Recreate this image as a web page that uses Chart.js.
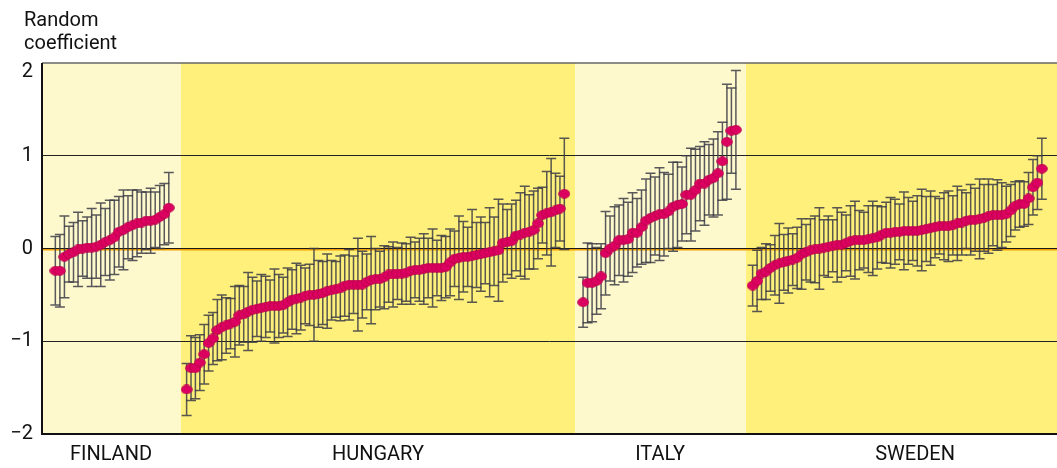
<!DOCTYPE html>
<html>
<head>
<meta charset="utf-8">
<title>Random coefficient by country</title>
<script src="https://cdn.jsdelivr.net/npm/chart.js@4.4.0/dist/chart.umd.min.js"></script>
<style>
    body { margin: 0; background: #ffffff; }
    #wrap { width: 1057px; height: 468px; position: relative; }
</style>
</head>
<body>
<div id="wrap"><canvas id="coefChart"></canvas></div>
<script>
// Country names (x axis labels)
const countries = ['FINLAND', 'HUNGARY', 'ITALY', 'SWEDEN'];

// Y tick labels
const yTicks = [-2, -1, 0, 1, 2];

// Estimates, sorted within each country
const finlandEst = [-0.24, -0.24, -0.09, -0.06, -0.04, -0.01, 0.00, 0.01, 0.01, 0.02, 0.04, 0.07, 0.09,
    0.12, 0.18, 0.20, 0.23, 0.25, 0.27, 0.28, 0.30, 0.30, 0.31, 0.34, 0.37, 0.44];
const hungaryEst = [-1.52, -1.29, -1.29, -1.23, -1.14,
    -1.02, -0.97, -0.88, -0.85, -0.83, -0.81, -0.79, -0.72, -0.71, -0.68, -0.66, -0.65, -0.64, -0.63,
    -0.62, -0.62, -0.62, -0.61, -0.58, -0.55, -0.54, -0.53, -0.51, -0.50, -0.50, -0.49, -0.48, -0.46,
    -0.45, -0.44, -0.43, -0.40, -0.39, -0.39, -0.39, -0.39, -0.36, -0.34, -0.33, -0.33, -0.31,
    -0.28, -0.28, -0.27, -0.27, -0.26, -0.24, -0.23, -0.23, -0.22, -0.21, -0.21, -0.21, -0.21, -0.20,
    -0.15, -0.11, -0.10, -0.09, -0.09, -0.08, -0.07, -0.06, -0.05, -0.04, -0.03, -0.02, 0.06, 0.07,
    0.08, 0.14, 0.15, 0.17, 0.18, 0.20, 0.27, 0.36, 0.38, 0.39, 0.41, 0.43, 0.59];
const italyEst = [-0.58, -0.37, -0.37, -0.35, -0.30, -0.05, 0.00, 0.03, 0.09, 0.09, 0.10, 0.17, 0.17,
    0.23, 0.30, 0.33, 0.35, 0.37, 0.37, 0.40, 0.45, 0.47, 0.48, 0.58, 0.58, 0.63, 0.70, 0.70, 0.74,
    0.76, 0.81, 0.94, 1.15, 1.27, 1.28];
const swedenEst = [-0.40, -0.35, -0.27, -0.25, -0.21, -0.18, -0.16, -0.15, -0.13, -0.12,
    -0.10, -0.06, -0.04, -0.02, -0.01, 0.00, 0.01, 0.02, 0.03, 0.04,
    0.04, 0.06, 0.08, 0.09, 0.09, 0.09, 0.10, 0.11, 0.12, 0.15,
    0.17, 0.17, 0.18, 0.18, 0.19, 0.19, 0.19, 0.19, 0.20, 0.21,
    0.22, 0.23, 0.24, 0.24, 0.24, 0.25, 0.27, 0.28, 0.30, 0.31,
    0.31, 0.32, 0.33, 0.35, 0.36, 0.36, 0.36, 0.37, 0.41, 0.46,
    0.48, 0.48, 0.54, 0.66, 0.71, 0.86];

// Half-widths of the error bars
const finlandErr = [0.37, 0.39, 0.44, 0.30, 0.32, 0.40, 0.30, 0.33, 0.42, 0.34, 0.45, 0.36, 0.43,
    0.40, 0.38, 0.43, 0.34, 0.38, 0.36, 0.33, 0.31, 0.35, 0.30, 0.34, 0.33, 0.38];
const hungaryErr = [0.28, 0.35, 0.33, 0.30, 0.32,
    0.30, 0.28, 0.33, 0.35, 0.30, 0.27, 0.38, 0.32, 0.30, 0.42, 0.35, 0.30, 0.36, 0.33, 0.28,
    0.40, 0.34, 0.30, 0.37, 0.32, 0.38, 0.35, 0.30, 0.33, 0.50, 0.36, 0.34, 0.40, 0.32, 0.30,
    0.35, 0.33, 0.38, 0.31, 0.50, 0.36, 0.30, 0.47, 0.33, 0.30, 0.34,
    0.30, 0.35, 0.28, 0.33, 0.31, 0.36, 0.30, 0.34, 0.38, 0.32, 0.42, 0.30, 0.35, 0.33, 0.36,
    0.30, 0.45, 0.38, 0.32, 0.50, 0.35, 0.40, 0.33, 0.48, 0.37, 0.55, 0.42, 0.35, 0.40, 0.38,
    0.45, 0.50, 0.40, 0.42, 0.38, 0.30, 0.45, 0.58, 0.40, 0.35, 0.60];
const italyErr = [0.27, 0.43, 0.42, 0.36, 0.35, 0.45, 0.35, 0.42, 0.38, 0.45, 0.40, 0.43, 0.37,
    0.40, 0.45, 0.48, 0.42, 0.50, 0.45, 0.40, 0.48, 0.46, 0.40, 0.42, 0.50, 0.44, 0.40, 0.45,
    0.38, 0.42, 0.45, 0.42, 0.62, 0.46, 0.64];
const swedenErr = [0.22, 0.33, 0.28, 0.30, 0.25, 0.32, 0.43, 0.30, 0.35, 0.28,
    0.33, 0.38, 0.30, 0.34, 0.36, 0.44, 0.30, 0.33, 0.28, 0.40,
    0.35, 0.30, 0.38, 0.42, 0.32, 0.30, 0.36, 0.40, 0.34, 0.30,
    0.33, 0.38, 0.35, 0.30, 0.42, 0.36, 0.32, 0.38, 0.44, 0.35,
    0.40, 0.33, 0.30, 0.36, 0.38, 0.32, 0.40, 0.35, 0.30, 0.38,
    0.34, 0.43, 0.36, 0.40, 0.33, 0.38, 0.35, 0.30, 0.28, 0.26,
    0.25, 0.24, 0.28, 0.30, 0.29, 0.33];

document.addEventListener('DOMContentLoaded', function() {
    // Layout of the x axis (slot units): where each country's row of points starts, and spacing
    const groupStart = [3, 32.5, 121.6, 159.7];
    const groupStep = [1.02, 0.987, 1.01, 1.0];
    const panelEdges = [0, 31.2, 119.8, 158.2, 228.1];
    const labelPos = [15.5, 75.5, 138.9, 196.2];
    const panelColors = ['#fef9cd', '#fef07a', '#fef9cd', '#fef07a'];

    const estimates = [finlandEst, hungaryEst, italyEst, swedenEst];
    const errors = [finlandErr, hungaryErr, italyErr, swedenErr];

    // Build the scatter points with their error half-widths
    const points = [];
    estimates.forEach((est, g) => {
        est.forEach((v, i) => {
            points.push({ x: groupStart[g] + i * groupStep[g], y: v, err: errors[g][i] });
        });
    });

    // Oval marker
    const dot = document.createElement('canvas');
    dot.width = 12;
    dot.height = 10;
    const dctx = dot.getContext('2d');
    dctx.beginPath();
    dctx.ellipse(6, 5, 5.4, 4.4, 0, 0, Math.PI * 2);
    dctx.fillStyle = '#dc0060';
    dctx.fill();
    dctx.lineWidth = 0.8;
    dctx.strokeStyle = '#b8004a';
    dctx.stroke();

    // Background panels, one per country
    const panelPlugin = {
        id: 'panels',
        beforeDraw(chart) {
            const { ctx, chartArea, scales } = chart;
            ctx.save();
            for (let i = 0; i < 4; i++) {
                const x0 = scales.x.getPixelForValue(panelEdges[i]);
                const x1 = scales.x.getPixelForValue(panelEdges[i + 1]);
                ctx.fillStyle = panelColors[i];
                ctx.fillRect(x0, chartArea.top, x1 - x0, chartArea.bottom - chartArea.top);
            }
            ctx.restore();
        }
    };

    // Zero line, error bars, frame and the axis title
    const barsPlugin = {
        id: 'errorBars',
        beforeDatasetsDraw(chart) {
            const { ctx, chartArea, scales } = chart;
            const y0 = scales.y.getPixelForValue(0);
            ctx.save();
            ctx.strokeStyle = '#f0a000';
            ctx.lineWidth = 2;
            ctx.beginPath();
            ctx.moveTo(chartArea.left, y0 + 1);
            ctx.lineTo(chartArea.right, y0 + 1);
            ctx.stroke();
            ctx.strokeStyle = '#1a1a1a';
            ctx.lineWidth = 1;
            ctx.beginPath();
            ctx.moveTo(chartArea.left, y0);
            ctx.lineTo(chartArea.right, y0);
            ctx.stroke();

            ctx.strokeStyle = 'rgba(60, 60, 70, 0.85)';
            ctx.lineWidth = 1.5;
            const meta = chart.getDatasetMeta(0);
            meta.data.forEach((el, i) => {
                const p = points[i];
                const yHi = scales.y.getPixelForValue(p.y + p.err);
                const yLo = scales.y.getPixelForValue(p.y - p.err);
                ctx.beginPath();
                ctx.moveTo(el.x, yHi);
                ctx.lineTo(el.x, yLo);
                ctx.moveTo(el.x - 5, yHi);
                ctx.lineTo(el.x + 5, yHi);
                ctx.moveTo(el.x - 5, yLo);
                ctx.lineTo(el.x + 5, yLo);
                ctx.stroke();
            });
            ctx.restore();
        },
        afterDraw(chart) {
            const { ctx, chartArea, scales } = chart;
            ctx.save();
            // frame
            ctx.strokeStyle = '#666666';
            ctx.lineWidth = 1.5;
            ctx.beginPath();
            ctx.moveTo(chartArea.left, chartArea.top);
            ctx.lineTo(chartArea.right, chartArea.top);
            ctx.stroke();
            ctx.strokeStyle = '#111111';
            ctx.lineWidth = 2;
            ctx.beginPath();
            ctx.moveTo(chartArea.left, chartArea.top);
            ctx.lineTo(chartArea.left, chartArea.bottom);
            ctx.lineTo(chartArea.right, chartArea.bottom);
            ctx.stroke();
            // axis title
            ctx.fillStyle = '#111111';
            ctx.font = '20px Roboto';
            ctx.textAlign = 'left';
            ctx.textBaseline = 'alphabetic';
            ctx.fillText('Random', 24, 26);
            ctx.fillText('coefficient', 24, 49);
            // top tick label sits just under the top line
            ctx.textAlign = 'right';
            ctx.textBaseline = 'top';
            ctx.fillText(String(yTicks[yTicks.length - 1]), chartArea.left - 9, scales.y.getPixelForValue(2) - 1);
            ctx.restore();
        }
    };

    new Chart(document.getElementById('coefChart'), {
        type: 'scatter',
        data: {
            datasets: [{
                data: points,
                pointStyle: dot,
                pointRadius: 5,
                pointHoverRadius: 5
            }]
        },
        options: {
            responsive: true,
            maintainAspectRatio: false,
            animation: false,
            layout: { autoPadding: false, padding: { top: 63, right: 0, bottom: 0, left: 0 } },
            plugins: {
                legend: { display: false },
                tooltip: { enabled: false }
            },
            scales: {
                x: {
                    type: 'linear',
                    min: 0,
                    max: 228.1,
                    grid: { display: false },
                    border: { display: false },
                    afterFit(scale) {
                        scale.height = 34;
                        scale.paddingLeft = 0;
                        scale.paddingRight = 0;
                    },
                    afterBuildTicks(scale) {
                        scale.ticks = labelPos.map(v => ({ value: v }));
                    },
                    ticks: {
                        autoSkip: false,
                        maxRotation: 0,
                        padding: 1,
                        color: '#111111',
                        font: { family: 'Roboto', size: 20 },
                        callback: (value, index) => countries[index]
                    }
                },
                y: {
                    min: -2,
                    max: 2,
                    border: { display: false },
                    afterFit(scale) { scale.width = 42; },
                    afterBuildTicks(scale) {
                        scale.ticks = yTicks.map(v => ({ value: v }));
                    },
                    grid: {
                        drawTicks: false,
                        lineWidth: 1,
                        color: ctx => (ctx.tick && Math.abs(ctx.tick.value) === 1) ? '#222222' : 'rgba(0,0,0,0)'
                    },
                    ticks: {
                        padding: 9,
                        color: '#111111',
                        font: { family: 'Roboto', size: 20 },
                        callback: v => v === 2 ? '' : (v < 0 ? '\u2212' + Math.abs(v) : String(v))
                    }
                }
            }
        },
        plugins: [panelPlugin, barsPlugin]
    });
});
</script>
</body>
</html>
